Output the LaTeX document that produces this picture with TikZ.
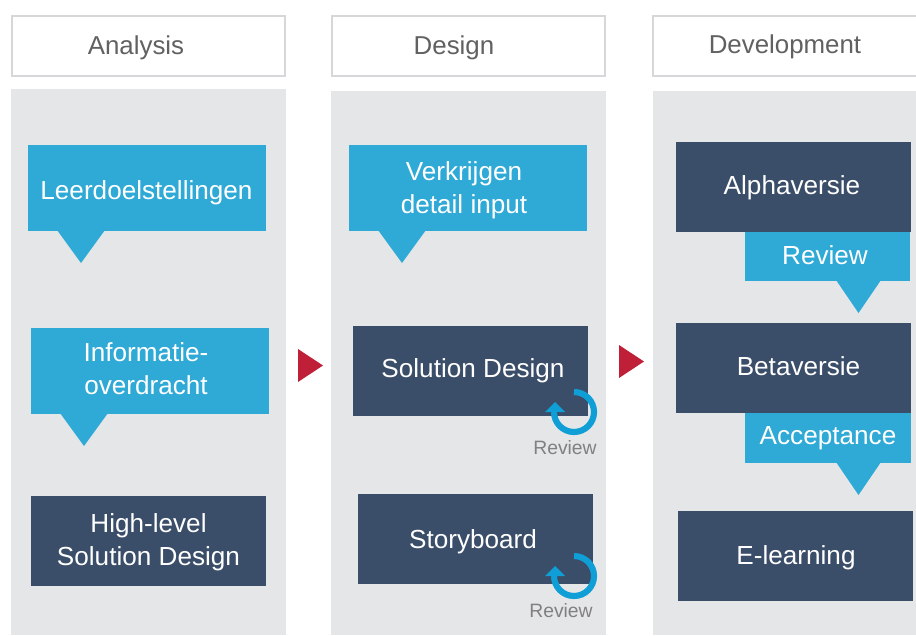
\documentclass[tikz,border=0pt]{standalone}
\usepackage{fontspec}
\setmainfont{Liberation Sans}
\definecolor{panelgray}{HTML}{E4E6E8}
\definecolor{headline}{HTML}{D5D7D8}
\definecolor{calloutblue}{HTML}{2FA9D6}
\definecolor{boxdark}{HTML}{3A4D69}
\definecolor{loopblue}{HTML}{0F9ED5}
\definecolor{stepred}{HTML}{BF2038}
\tikzset{
	panel/.style={fill=panelgray},
	headbox/.style={draw=headline,line width=1.5pt,fill=white},
	headtext/.style={text=black!62,inner sep=0pt,yshift=-2.2pt,font=\fontsize{19.4}{23}\selectfont},
	bluebox/.style={fill=calloutblue},
	darkbox/.style={fill=boxdark},
	boxtext/.style={text=white,align=center,yshift=-2.2pt,font=\fontsize{19.6}{24.5}\selectfont},
	looplabel/.style={text=black!50,inner sep=0pt,font=\fontsize{14.5}{17}\selectfont},
	tail/.style={fill=calloutblue},
	arrowhead/.style={fill=stepred},
	loopring/.style={draw=loopblue,line width=4.6pt},
	looptip/.style={fill=loopblue}
}
% rectangle given by its corners in pixels
\newcommand{\pbox}[6]{\node[#1,minimum width=#4*0.75pt-#2*0.75pt,minimum height=#5*0.75pt-#3*0.75pt,inner sep=0pt,anchor=north west] (#6) at (#2,#3) {};}
% pointer under a blue box
\newcommand{\ptail}[4]{\fill[tail] (#1,#4) -- (#2,#4) -- (#3) -- cycle;}
\begin{document}
\begin{tikzpicture}[x=0.75pt,y=-0.75pt]
	\useasboundingbox (0,0) rectangle (916,635);

	% columns
	\pbox{panel}{11}{89}{286}{635}{col1}
	\pbox{panel}{331}{91}{606}{635}{col2}
	\pbox{panel}{653}{91}{916}{635}{col3}

	\pbox{headbox}{11}{15}{284}{75}{analysis}
	\pbox{headbox}{331}{15}{604}{75}{design}
	\pbox{headbox}{652}{15}{917}{75}{development}
	\node[headtext] (analysist) at (136,45) {Analysis};
	\node[headtext] (designt) at (454,45) {Design};
	\node[headtext] (developmentt) at (785,44) {Development};

	% analysis
	\coordinate (tipa) at (81,263);
	\coordinate (tipb) at (84,446);
	\ptail{57}{105}{tipa}{230}
	\ptail{60}{108}{tipb}{413}
	\pbox{bluebox}{28}{145}{266}{231}{leerdoel}
	\pbox{bluebox}{31}{328}{269}{414}{informatie}
	\pbox{darkbox}{31}{496}{266}{586}{highlevel}
	\node[boxtext] (leerdoelt) at (146.5,190) {Leerdoelstellingen};
	\node[boxtext] (informatiet) at (146,366) {Informatie-\\overdracht};
	\node[boxtext] (highlevelt) at (148.5,539) {High-level\\Solution Design};

	% design
	\coordinate (tipc) at (402,263);
	\ptail{378}{426}{tipc}{230}
	\pbox{bluebox}{349}{145}{587}{231}{verkrijgen}
	\pbox{darkbox}{353}{326}{588}{416}{soldesign}
	\pbox{darkbox}{358}{494}{593}{584}{storyboard}
	\node[boxtext] (verkrijgent) at (464,187) {Verkrijgen\\detail input};
	\node[boxtext] (soldesignt) at (473,368) {Solution Design};
	\node[boxtext] (storyboardt) at (473,539) {Storyboard};

	% development
	\coordinate (tipd) at (858.5,313);
	\coordinate (tipe) at (858.5,495);
	\ptail{836}{881}{tipd}{280}
	\ptail{836}{881}{tipe}{462}
	\pbox{bluebox}{745}{232}{910}{281}{review}
	\pbox{bluebox}{745}{413}{911}{463}{acceptance}
	\pbox{darkbox}{676}{142}{911}{232}{alpha}
	\pbox{darkbox}{676}{323}{911}{413}{beta}
	\pbox{darkbox}{678}{511}{913}{601}{elearning}
	\node[boxtext] (reviewt) at (825,252.5) {Review};
	\node[boxtext] (acceptancet) at (828,435) {Acceptance};
	\node[boxtext] (alphat) at (792,185) {Alphaversie};
	\node[boxtext] (betat) at (798.5,363.5) {Betaversie};
	\node[boxtext] (elearningt) at (796,555) {E-learning};

	% red arrows
	\fill[arrowhead] (298,349) -- (298,382) -- (323,365.5) -- cycle;
	\fill[arrowhead] (619,345) -- (619,378) -- (644,361.5) -- cycle;

	% review loops
	\foreach \cx/\cy/\lx/\ly/\nm in {574/412/565/448/loopa,574/576/561/611/loopb}{
		\draw[loopring] (\cx,\cy-20) arc (90:-180:15pt);
		\fill[looptip] (\cx-29,\cy) -- (\cx-9,\cy) -- (\cx-19,\cy-10) -- cycle;
		\node[looplabel] (\nm) at (\lx,\ly) {Review};
	}
\end{tikzpicture}
\end{document}
